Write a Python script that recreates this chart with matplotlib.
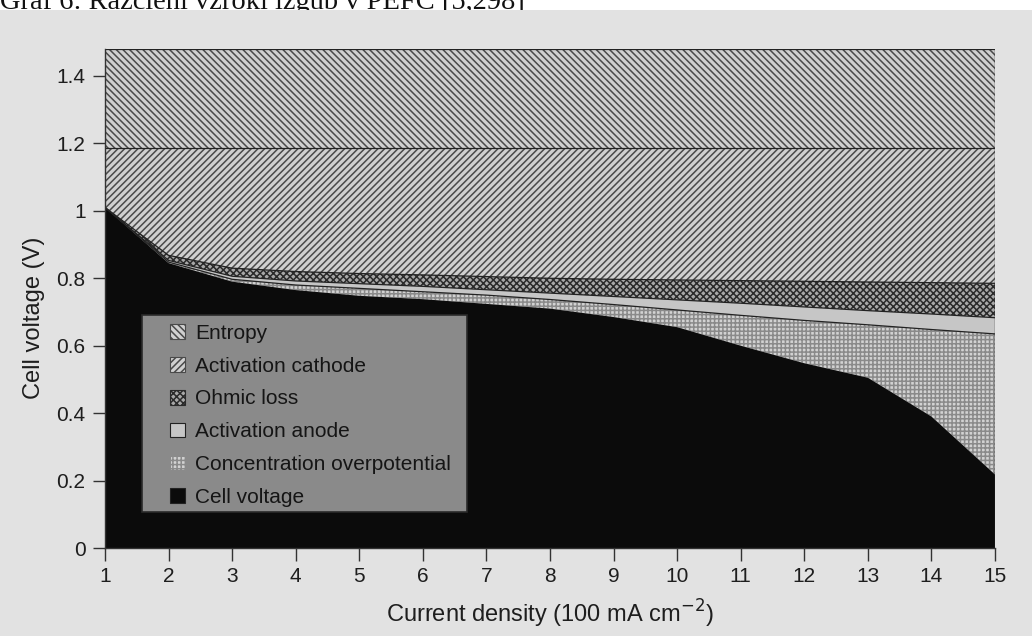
import matplotlib
matplotlib.use("Agg")
import matplotlib.pyplot as plt
from matplotlib.patches import Patch, Rectangle
import numpy as np

# ---- data (boundaries of stacked regions, V) ----
current = [1, 2, 3, 4, 5, 6, 7, 8, 9, 10, 11, 12, 13, 14, 15]
cell_voltage = [1.01, 0.845, 0.79, 0.765, 0.748, 0.738, 0.724, 0.71, 0.685, 0.655, 0.60, 0.548, 0.505, 0.39, 0.218]
conc_top = [1.01, 0.848, 0.797, 0.78, 0.77, 0.76, 0.75, 0.737, 0.722, 0.706, 0.69, 0.675, 0.662, 0.648, 0.635]
anode_top = [1.01, 0.853, 0.806, 0.792, 0.784, 0.776, 0.766, 0.756, 0.746, 0.736, 0.726, 0.715, 0.704, 0.694, 0.683]
ohmic_top = [1.01, 0.868, 0.83, 0.82, 0.814, 0.81, 0.805, 0.80, 0.797, 0.795, 0.793, 0.791, 0.789, 0.787, 0.785]
reversible = [1.185] * 15
thermoneutral = [1.48] * 15

labels = ["Entropy", "Activation cathode", "Ohmic loss", "Activation anode",
          "Concentration overpotential", "Cell voltage"]
xticks = list(range(1, 16))
yticks = [0, 0.2, 0.4, 0.6, 0.8, 1.0, 1.2, 1.4]
yticklabels = ["0", "0.2", "0.4", "0.6", "0.8", "1", "1.2", "1.4"]
title = "Graf 6: Razčleni vzroki izgub v PEFC [5,298]"

plt.rcParams['hatch.linewidth'] = 1.1
plt.rcParams['font.family'] = ['Liberation Sans', 'DejaVu Sans']

BG = '#e2e2e2'
fig = plt.figure(figsize=(10.32, 6.36), dpi=100, facecolor=BG)
fig.patches.append(Rectangle((0, 1 - 10 / 636), 1, 10 / 636, transform=fig.transFigure,
                             facecolor='white', edgecolor='none', zorder=0))
fig.text(0.0, 1 - 9 / 636, title, family='Liberation Serif', fontsize=20.5,
         color='#111111', va='baseline', ha='left', zorder=3)
# cover descenders below the white strip
fig.patches.append(Rectangle((0, 1 - 24 / 636), 1, 14 / 636, transform=fig.transFigure,
                             facecolor=BG, edgecolor='none', zorder=4))

ax = fig.add_axes([105 / 1032, 1 - 548 / 636, (995 - 105) / 1032, (548 - 49) / 636])
ax.set_facecolor(BG)

styles = [
    dict(facecolor='#d0d0d0', edgecolor='#4a4a4a', hatch='\\' * 5),    # entropy
    dict(facecolor='#d0d0d0', edgecolor='#4a4a4a', hatch='/' * 5),     # activation cathode
    dict(facecolor='#a8a8a8', edgecolor='#2a2a2a', hatch='x' * 5),     # ohmic
    dict(facecolor='#c6c6c6', edgecolor='none', hatch=None),           # activation anode
    dict(facecolor='#d2d2d2', edgecolor='#8a8a8a', hatch='+' * 4),     # concentration
    dict(facecolor='#0b0b0b', edgecolor='none', hatch=None),           # cell voltage
]

bounds = [(reversible, thermoneutral), (ohmic_top, reversible), (anode_top, ohmic_top),
          (conc_top, anode_top), (cell_voltage, conc_top), ([0] * 15, cell_voltage)]

for (lo, hi), st in zip(bounds, styles):
    ax.fill_between(current, lo, hi, facecolor=st['facecolor'],
                    edgecolor=st['edgecolor'], hatch=st['hatch'], linewidth=0)

for line in [thermoneutral, reversible, ohmic_top, anode_top, conc_top]:
    ax.plot(current, line, color='#222222', lw=0.9)
ax.plot([15, 15], [0, 1.48], color='#333333', lw=1.0)

ax.set_xlim(1, 15)
ax.set_ylim(0, 1.48)
for s in ['top', 'right']:
    ax.spines[s].set_visible(False)
for s in ['left', 'bottom']:
    ax.spines[s].set_color('#333333')
    ax.spines[s].set_linewidth(1.0)

ax.set_xticks(xticks)
ax.set_yticks(yticks)
ax.set_yticklabels(yticklabels)
ax.tick_params(axis='both', direction='out', length=9, width=1.0, color='#333333',
               labelsize=15, labelcolor='#1e1e1e', pad=5)
ax.set_xlabel("Current density (100 mA cm$^{-2}$)", fontsize=17, color='#1e1e1e', labelpad=8)
ax.set_ylabel("Cell voltage (V)", fontsize=17, color='#1e1e1e')
ax.yaxis.set_label_coords(-0.067, 0.461)

# legend box (drawn separately for exact padding)
ax.add_patch(Rectangle((37 / 890, 36 / 499), 325 / 890, 197 / 499, transform=ax.transAxes,
                       facecolor='#8a8a8a', edgecolor='#2a2a2a', linewidth=1.2, zorder=4))

handles = [Patch(facecolor=st['facecolor'], edgecolor=st['edgecolor'] if st['edgecolor'] != 'none' else '#222222',
                 hatch=st['hatch'], linewidth=0.8) for st in styles]
leg = ax.legend(handles, labels, loc='upper left', bbox_to_anchor=(65 / 890, 224 / 499),
                borderaxespad=0, frameon=False, fontsize=15, handlelength=0.72, handleheight=0.72,
                handletextpad=0.5, labelspacing=0.66, borderpad=0)
leg.set_zorder(5)
for t in leg.get_texts():
    t.set_color('#151515')

fig.savefig("out.png", dpi=100, facecolor=fig.get_facecolor())
